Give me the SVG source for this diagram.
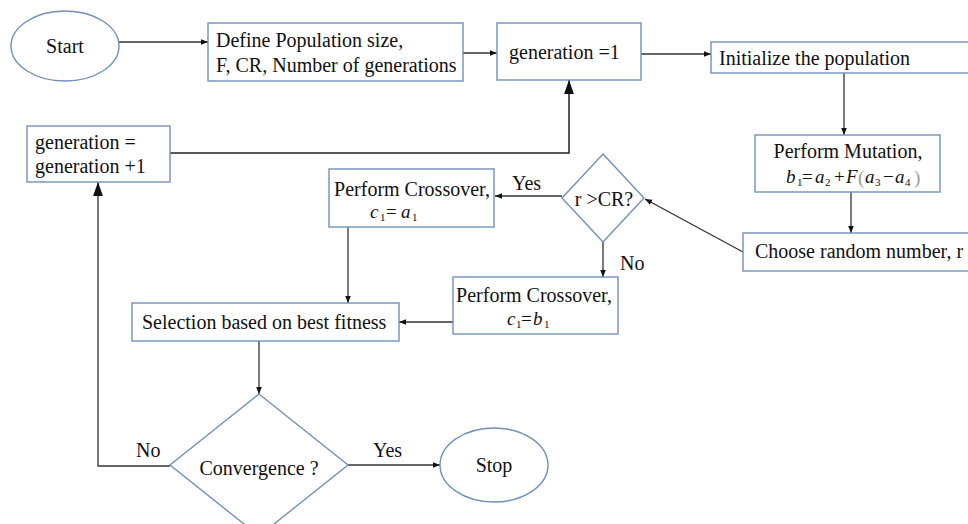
<svg xmlns="http://www.w3.org/2000/svg" width="968" height="524" viewBox="0 0 968 524">
<style>
.box{fill:#fff;stroke:#7390b8;stroke-width:1.4}
.t{font-family:"Liberation Serif","Times New Roman",serif;font-size:20px;fill:#111}
.m{font-family:"Liberation Serif","Times New Roman",serif;font-size:19px;font-style:italic;fill:#111}
.s{font-size:11px;font-style:normal}
.n{font-style:normal}
.p{font-style:normal;fill:#999}
.c{fill:none;stroke:#333;stroke-width:1.3}
.c2{fill:none;stroke:#222;stroke-width:1.5}
</style>
<defs>
<marker id="a" viewBox="0 0 10 10" refX="10" refY="5" markerWidth="7" markerHeight="7" markerUnits="userSpaceOnUse" orient="auto">
<path d="M0,1 L10,5 L0,9 z" fill="#111"/>
</marker>
<marker id="b" viewBox="0 0 10 10" refX="10" refY="5" markerWidth="14" markerHeight="14" markerUnits="userSpaceOnUse" orient="auto">
<path d="M0,1.5 L10,5 L0,8.5 z" fill="#111"/>
</marker>
</defs>
<rect width="968" height="524" fill="#fff"/>
<g id="connectors">
<line class="c" x1="119" y1="42" x2="208" y2="42" marker-end="url(#a)"/>
<line class="c" x1="463" y1="53" x2="497" y2="53" marker-end="url(#a)"/>
<line class="c" x1="641" y1="54" x2="711" y2="54" marker-end="url(#a)"/>
<line class="c" x1="844" y1="73" x2="844" y2="135" marker-end="url(#a)"/>
<line class="c" x1="851" y1="192" x2="851" y2="233" marker-end="url(#a)"/>
<line class="c" x1="743" y1="252" x2="645" y2="199" marker-end="url(#a)"/>
<line class="c" x1="562" y1="196" x2="495" y2="196" marker-end="url(#a)"/>
<line class="c" x1="603" y1="242" x2="603" y2="277" marker-end="url(#a)"/>
<line class="c" x1="348" y1="227" x2="348" y2="303" marker-end="url(#a)"/>
<line class="c" x1="453" y1="322" x2="399" y2="322" marker-end="url(#a)"/>
<line class="c" x1="259" y1="341" x2="259" y2="394" marker-end="url(#a)"/>
<line class="c" x1="348" y1="465" x2="440" y2="465" marker-end="url(#a)"/>
<polyline class="c2" points="170,153 569,153 569,80" marker-end="url(#b)"/>
<polyline class="c" points="170,466 98,466 98,182" marker-end="url(#b)"/>
<text class="t" x="512" y="190">Yes</text>
<text class="t" x="620" y="270">No</text>
<text class="t" x="136" y="457">No</text>
<text class="t" x="373" y="457">Yes</text>
</g>
<g id="start">
<ellipse class="box" cx="65" cy="46" rx="54" ry="35"/>
<text class="t" x="65" y="53" text-anchor="middle">Start</text>
</g>
<g id="define">
<rect class="box" x="208" y="23" width="255" height="58"/>
<text class="t" x="216" y="47">Define Population size,</text>
<text class="t" x="216" y="72">F, CR, Number of generations</text>
</g>
<g id="gen1">
<rect class="box" x="497" y="23" width="144" height="57"/>
<text class="t" x="509" y="59">generation =1</text>
</g>
<g id="init">
<rect class="box" x="711" y="42" width="260" height="31"/>
<text class="t" x="719" y="65">Initialize the population</text>
</g>
<g id="mutation">
<rect class="box" x="755" y="135" width="185" height="57"/>
<text class="t" x="848" y="158" text-anchor="middle">Perform Mutation,</text>
<text class="m" x="786" y="183">b<tspan class="s" x="797" y="186">1</tspan><tspan class="n" x="802" y="183">=</tspan><tspan x="815" y="183">a</tspan><tspan class="s" x="825" y="186">2</tspan><tspan class="n" x="834" y="183">+</tspan><tspan x="846" y="183">F</tspan><tspan class="p" x="858" y="184">(</tspan><tspan x="865" y="183">a</tspan><tspan class="s" x="875" y="186">3</tspan><tspan class="n" x="883" y="183">−</tspan><tspan x="895" y="183">a</tspan><tspan class="s" x="905" y="186">4</tspan><tspan class="p" x="914" y="184">)</tspan></text>
</g>
<g id="choose">
<rect class="box" x="743" y="233" width="230" height="38"/>
<text class="t" x="755" y="258">Choose random number, r</text>
</g>
<g id="rcr">
<polygon class="box" points="603,154 644,198 603,242 562,198"/>
<text class="t" x="604" y="206" text-anchor="middle">r &gt;CR?</text>
</g>
<g id="cross1">
<rect class="box" x="329" y="169" width="165" height="58"/>
<text class="t" x="412" y="196" text-anchor="middle">Perform Crossover,</text>
<text class="m" x="370" y="218">c<tspan class="s" x="380" y="221">1</tspan><tspan class="n" x="386" y="218">=</tspan><tspan x="401" y="218">a</tspan><tspan class="s" x="412" y="221">1</tspan></text>
</g>
<g id="cross2">
<rect class="box" x="453" y="277" width="165" height="57"/>
<text class="t" x="534" y="302" text-anchor="middle">Perform Crossover,</text>
<text class="m" x="507" y="325">c<tspan class="s" x="516" y="328">1</tspan><tspan class="n" x="521" y="325">=</tspan><tspan x="533" y="325">b</tspan><tspan class="s" x="544" y="328">1</tspan></text>
</g>
<g id="selection">
<rect class="box" x="132" y="303" width="267" height="38"/>
<text class="t" x="142" y="329">Selection based on best fitness</text>
</g>
<g id="gennext">
<rect class="box" x="27" y="126" width="143" height="56"/>
<text class="t" x="35" y="149">generation =</text>
<text class="t" x="35" y="173">generation +1</text>
</g>
<g id="convergence">
<polygon class="box" points="259,394 348,465 259,536 170,465"/>
<text class="t" x="259" y="475" text-anchor="middle">Convergence ?</text>
</g>
<g id="stop">
<ellipse class="box" cx="494" cy="465" rx="54" ry="37"/>
<text class="t" x="494" y="472" text-anchor="middle">Stop</text>
</g>
</svg>
